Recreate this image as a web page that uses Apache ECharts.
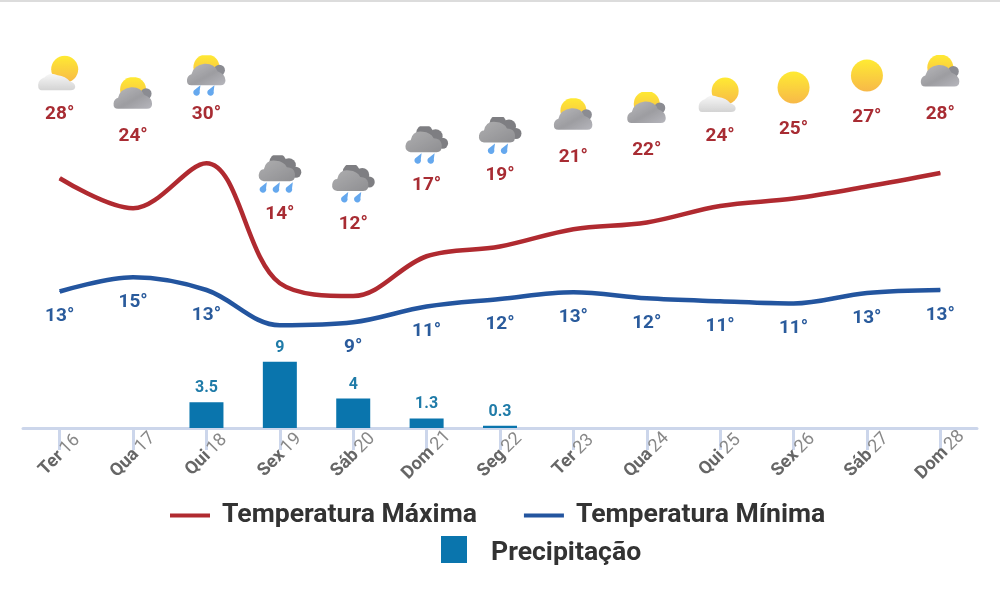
<!DOCTYPE html>
<html>
<head>
    <meta charset="utf-8">
    <title>Previsão 13 dias</title>
    <style>
        html, body { margin: 0; padding: 0; background: #fff; }
        #container { width: 1000px; height: 592px; }
        #topo { position: absolute; left: 0; top: 0; width: 1000px; height: 2px; background: #dcdcdc; z-index: 5; }
    </style>
</head>
<body>
<div id="topo"></div>
<div id="container"></div>
<script src="https://cdn.jsdelivr.net/npm/echarts@6/dist/echarts.min.js"></script>
<script>
    var weekdays = ["Ter", "Qua", "Qui", "Sex", "Sáb", "Dom", "Seg", "Ter", "Qua", "Qui", "Sex", "Sáb", "Dom"];
    var dates = ["16", "17", "18", "19", "20", "21", "22", "23", "24", "25", "26", "27", "28"];
    var tempMax = [27.6, 23.6, 29.6, 13.6, 11.9, 17.2, 18.5, 20.8, 21.7, 23.9, 24.9, 26.5, 28.3];
    var tempMin = [12.5, 14.4, 12.7, 8.0, 8.4, 10.5, 11.5, 12.4, 11.6, 11.2, 10.9, 12.3, 12.7];
    var tempMaxLabels = [28, 24, 30, 14, 12, 17, 19, 21, 22, 24, 25, 27, 28];
    var tempMinLabels = [13, 15, 13, null, 9, 11, 12, 13, 12, 11, 11, 13, 13];
    var precip = [0, 0, 3.5, 9, 4, 1.3, 0.3, 0, 0, 0, 0, 0, 0];
    var weather = ["solNuvem", "solCinza", "solChuva", "chuva3", "chuva2", "chuva2", "chuva2",
        "solCinza", "solCinza", "solNuvem", "sol", "sol", "solCinza"];

    // distance of the temperature text above the red line, in px
    var labelRise = [49, 57, 34, 54, 57, 56, 56, 57, 57, 55, 54, 54, 44];

    var defs = '<defs>' +
        '<linearGradient id="s" x1="0" y1="0" x2="0" y2="1"><stop offset="0" stop-color="#ffe600"/><stop offset="1" stop-color="#f6a81c"/></linearGradient>' +
        '<linearGradient id="c" x1="0" y1="0" x2="1" y2="1"><stop offset="0" stop-color="#a9a9ad"/><stop offset="0.55" stop-color="#85858a"/><stop offset="1" stop-color="#a5a5ad"/></linearGradient>' +
        '<linearGradient id="d" x1="0" y1="0" x2="1" y2="1"><stop offset="0" stop-color="#9a9a9c"/><stop offset="1" stop-color="#737377"/></linearGradient>' +
        '<linearGradient id="w" x1="0" y1="0" x2="0" y2="1"><stop offset="0" stop-color="#f6f6f6"/><stop offset="1" stop-color="#c9c9c9"/></linearGradient>' +
        '</defs>';

    function sun(cx, cy, r) {
        return '<circle cx="' + cx + '" cy="' + cy + '" r="' + r + '" fill="url(#s)"/>';
    }

    function greyCloud(dy) {
        return '<g transform="translate(0,' + dy + ')">' +
            '<circle cx="35" cy="20" r="5.5" fill="#6f7078"/>' +
            '<path d="M7 35 Q2 35 2.5 29.5 Q3 25 7 24 Q9 15 20 13.5 Q30 13 33 21 Q41 24 41 30 Q41 35 36 35 Z" fill="url(#c)"/></g>';
    }

    function rainCloud() {
        return '<circle cx="20" cy="11" r="8.5" fill="#5f5f63"/><circle cx="31" cy="14" r="7" fill="#5f5f63"/><circle cx="38" cy="21" r="5.5" fill="#5f5f63"/>' +
            '<path d="M6 30 Q0 29 1 23 Q2 18 6 18 Q8 8 18 9.5 Q26 10 29 16 Q36 16 37 22 Q38 30 32 30 Z" fill="url(#d)"/>';
    }

    function drop(x, y) {
        return '<path d="M' + (x + 3) + ' ' + y + ' L' + (x + 2.2) + ' ' + (y + 6) +
            ' A3.3 3.3 0 1 1 ' + (x - 3.6) + ' ' + (y + 5.2) + ' Z" fill="#3f93ea"/>';
    }

    function raised(body, dy) {
        return '<g transform="translate(0,' + dy + ')">' + body + '</g>';
    }

    var iconBody = {
        sol: '<circle cx="22" cy="17" r="16" fill="url(#s)"/>',
        solNuvem: sun(27, 14, 13.5) +
            '<path d="M4 35 Q0 35 0.5 29 Q1 24 7 22 Q12 16 20 20 Q28 21 32 26 Q38 28 37.5 32 Q37 35 33 35 Z" fill="url(#w)"/>',
        solCinza: raised(sun(22, 16, 13) + greyCloud(0), -3.5),
        solChuva: sun(22, 12, 13) + greyCloud(-5) + drop(13, 30) + drop(27, 30),
        chuva3: raised(rainCloud() + drop(6, 31) + drop(19, 31) + drop(32, 31), -4),
        chuva2: raised(rainCloud() + drop(14, 31) + drop(27, 31), -4)
    };

    function iconOf(name) {
        var svg = '<svg xmlns="http://www.w3.org/2000/svg" width="132" height="132" viewBox="0 0 44 44">' +
            defs + iconBody[name] + '</svg>';
        return 'image://data:image/svg+xml;charset=utf-8,' + encodeURIComponent(svg);
    }

    var axisLabels = weekdays.map(function (day, i) {
        return "{d|" + day + "} {n|" + dates[i] + "}";
    });

    var maxData = tempMax.map(function (v, i) {
        return {value: v, label: {offset: [0, -labelRise[i]]}};
    });

    var iconData = tempMax.map(function (v, i) {
        return {
            value: v,
            symbol: iconOf(weather[i]),
            symbolOffset: [0, -(labelRise[i] + 52)]
        };
    });

    var myChart = echarts.init(document.getElementById("container"), null, {renderer: 'canvas'});

    var option = {
        animation: false,
        backgroundColor: '#fff',
        textStyle: {fontFamily: 'Roboto'},
        grid: {left: 23, right: 23, top: 23, height: 405},
        legend: [{
            data: ['Temperatura Máxima', 'Temperatura Mínima'],
            top: 497,
            left: 165,
            selectedMode: false,
            icon: 'rect',
            itemWidth: 40,
            itemHeight: 4,
            itemGap: 47,
            textStyle: {fontSize: 26.6, fontWeight: 'bold', color: '#333', fontFamily: 'Roboto', padding: [0, 0, 0, 7]}
        }, {
            data: ['Precipitação'],
            top: 531,
            left: 436,
            selectedMode: false,
            // square sits in the upper part of the item so the text lands a little lower
            icon: 'path://M0 0H26V27H0Z M0 35H0.01V35Z',
            itemWidth: 26,
            itemHeight: 35,
            textStyle: {fontSize: 26.6, fontWeight: 'bold', color: '#333', fontFamily: 'Roboto', padding: [0, 0, 0, 19]}
        }],
        xAxis: {
            type: 'category',
            data: axisLabels,
            boundaryGap: true,
            axisLine: {onZero: false, lineStyle: {color: '#ccd6eb', width: 3}},
            axisTick: {show: true, alignWithLabel: true, length: 22, lineStyle: {color: '#ccd6eb', width: 3}},
            axisLabel: {
                interval: 0,
                rotate: 45,
                align: 'center',
                verticalAlign: 'middle',
                margin: 27,
                rich: {
                    d: {fontSize: 18, fontWeight: 'bold', color: '#666', fontFamily: 'Roboto'},
                    n: {fontSize: 18, color: '#888', fontFamily: 'Roboto'}
                }
            }
        },
        yAxis: [
            {type: 'value', min: -5.7, max: 48.3, show: false},
            {type: 'value', min: 0, max: 55, show: false}
        ],
        series: [{
            name: 'Precipitação',
            type: 'bar',
            yAxisIndex: 1,
            data: precip,
            barWidth: 34,
            color: '#0a75ad',
            label: {
                show: true,
                position: 'top',
                distance: 6,
                fontSize: 16,
                fontWeight: 'bold',
                color: '#1f7ba8',
                formatter: function (p) {
                    return p.value ? String(p.value) : '';
                }
            }
        }, {
            name: 'Temperatura Máxima',
            type: 'line',
            data: maxData,
            color: '#b02a30',
            smooth: 0.35,
            symbol: 'circle',
            symbolSize: 1,
            showAllSymbol: true,
            lineStyle: {width: 4.5, color: '#b02a30'},
            label: {
                show: true,
                position: 'top',
                fontSize: 19,
                fontWeight: 'bold',
                color: '#a82c33',
                formatter: function (p) {
                    return tempMaxLabels[p.dataIndex] + '°';
                }
            }
        }, {
            name: 'Temperatura Mínima',
            type: 'line',
            data: tempMin,
            color: '#23559f',
            smooth: 0.35,
            symbol: 'circle',
            symbolSize: 1,
            showAllSymbol: true,
            lineStyle: {width: 4.5, color: '#23559f'},
            label: {
                show: true,
                position: 'bottom',
                distance: 15,
                fontSize: 19,
                fontWeight: 'bold',
                color: '#2a5b9c',
                formatter: function (p) {
                    var v = tempMinLabels[p.dataIndex];
                    return v === null ? '' : v + '°';
                }
            }
        }, {
            name: 'Previsão',
            type: 'scatter',
            data: iconData,
            symbolSize: 44,
            silent: true,
            z: 5
        }]
    };

    myChart.setOption(option);
</script>
</body>
</html>
